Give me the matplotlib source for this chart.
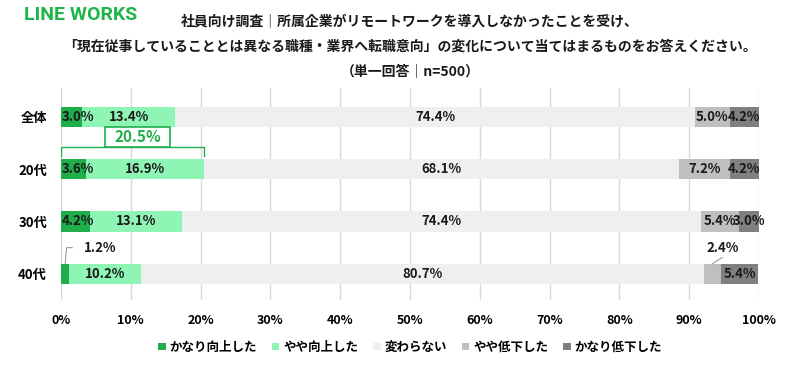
import matplotlib
matplotlib.use("Agg")
import matplotlib.pyplot as plt
from matplotlib.patches import Rectangle

plt.rcParams['font.family'] = ['Noto Sans CJK JP', 'DejaVu Sans']

categories = ["全体", "20代", "30代", "40代"]
series_names = ["かなり向上した", "やや向上した", "変わらない", "やや低下した", "かなり低下した"]
values = [
    [3.0, 3.6, 4.2, 1.2],
    [13.4, 16.9, 13.1, 10.2],
    [74.4, 68.1, 74.4, 80.7],
    [5.0, 7.2, 5.4, 2.4],
    [4.2, 4.2, 3.0, 5.4],
]
colors = ["#1fae4b", "#8ff5b4", "#efefef", "#bfbfbf", "#808080"]
highlight_total = "20.5%"

INK = "#1a1a1a"
GREEN = "#1fae4b"

fig = plt.figure(figsize=(7.87, 3.75), dpi=100)
ax = fig.add_axes([61 / 787, 1 - 300 / 375, 698 / 787, 212 / 375])

ypos = list(range(len(categories)))
left = [0.0] * len(categories)
for s, (name, vals) in enumerate(zip(series_names, values)):
    ax.barh(ypos, vals, left=left, height=0.385, color=colors[s], label=name, zorder=2)
    for i, v in enumerate(vals):
        mid = left[i] + v / 2
        if categories[i] == "40代" and s == 0:
            # ラベルは引き出し線付きで上に出す
            ax.plot([mid, mid + 0.2, 1.6], [i - 0.19, i - 0.5, i - 0.5], color="#999999", lw=0.8, zorder=3)
            ax.text(mid + 2.7, i - 0.5, f"{v:.1f}%", ha="left", va="center", fontsize=9.5,
                    fontweight="bold", color=INK)
        elif categories[i] == "40代" and s == 3:
            ax.plot([mid, mid + 1.4], [i - 0.19, i - 0.31], color="#999999", lw=0.8, zorder=3)
            ax.text(mid + 1.5, i - 0.5, f"{v:.1f}%", ha="center", va="center", fontsize=9.5,
                    fontweight="bold", color=INK)
        elif s == 0:
            ax.text(left[i] + 0.1, i, f"{v:.1f}%", ha="left", va="center", fontsize=9.5,
                    fontweight="bold", color=INK, zorder=4)
        else:
            ax.text(mid, i, f"{v:.1f}%", ha="center", va="center", fontsize=9.5,
                    fontweight="bold", color=INK, zorder=4)
    left = [l + v for l, v in zip(left, vals)]

# 20代の「向上した」合計を示す括弧
top2 = values[0][1] + values[1][1]
yb = 1 - 0.42
ax.plot([0, 0, top2, top2], [1 - 0.25, yb, yb, 1 - 0.25], color=GREEN, lw=1.0, zorder=3)
bx = top2 / 2 + 0.7
ax.add_patch(Rectangle((bx - 4.65, 1 - 0.81), 9.3, 0.39, facecolor="white",
                       edgecolor=GREEN, lw=1.2, zorder=4))
ax.text(bx, 1 - 0.615, highlight_total, ha="center", va="center", fontsize=11,
        fontweight="bold", color=GREEN, zorder=5)

ax.set_xlim(0, 100)
ax.set_ylim(3.5, -0.55)
ax.set_xticks(range(0, 101, 10))
ax.set_xticklabels([f"{t}%" for t in range(0, 101, 10)], fontsize=9, fontweight="bold")
ax.set_yticks(ypos)
ax.set_yticklabels(categories, fontsize=9.5, fontweight="bold")
ax.tick_params(length=0)
ax.tick_params(axis="x", pad=10)
ax.tick_params(axis="y", pad=10)
ax.grid(axis="x", color="#d9d9d9", lw=1.0, zorder=0)
for sp in ax.spines.values():
    sp.set_visible(False)

ax.legend(loc="upper center", bbox_to_anchor=(0.5, -0.14), ncol=5, frameon=False,
          handlelength=0.6, handleheight=0.6, handletextpad=0.3,
          columnspacing=1.2, prop={"weight": "bold", "size": 9})

cx = (61 + 759) / 2 / 787
fig.text(24 / 787, 1 - 15 / 375, "LINE WORKS", ha="left", va="center", fontsize=14,
         fontweight="bold", color="#1fb44a", family=["Roboto", "DejaVu Sans"])
fig.text(cx, 1 - 22 / 375, "社員向け調査｜所属企業がリモートワークを導入しなかったことを受け、",
         ha="center", va="center", fontsize=10, fontweight="bold", color=INK)
fig.text(cx, 1 - 47 / 375, "「現在従事していることとは異なる職種・業界へ転職意向」の変化について当てはまるものをお答えください。",
         ha="center", va="center", fontsize=10, fontweight="bold", color=INK)
fig.text(cx, 1 - 72 / 375, "（単一回答｜n=500）", ha="center", va="center", fontsize=10,
         fontweight="bold", color=INK)

fig.savefig("out.png", dpi=100, facecolor="white")
plt.close(fig)
